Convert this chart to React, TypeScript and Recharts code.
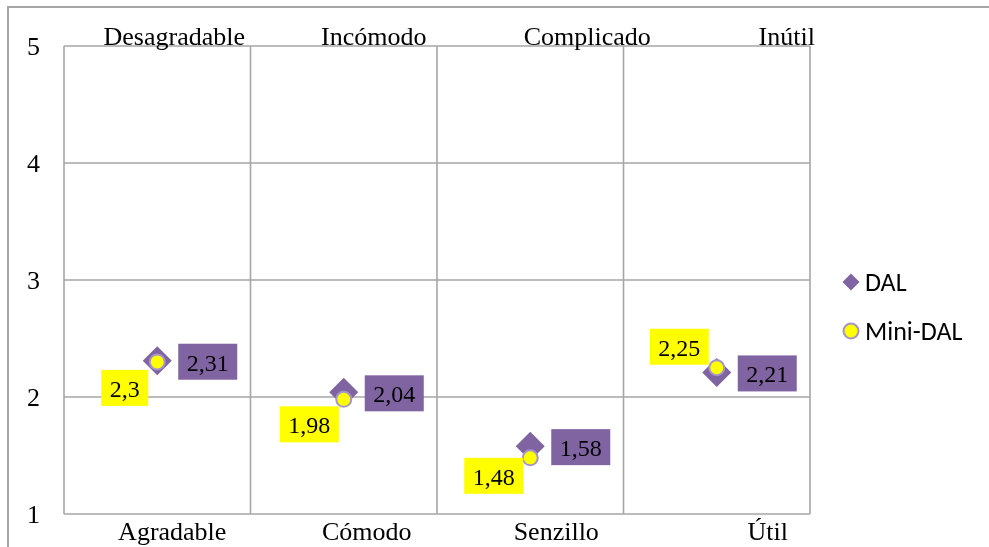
import React from 'react';
import { ComposedChart, Scatter, XAxis, YAxis, CartesianGrid, Legend } from 'recharts';

const categories = ['Agradable', 'Cómodo', 'Senzillo', 'Útil'];
const topLabels = ['Desagradable', 'Incómodo', 'Complicado', 'Inútil'];
const dalValues = [2.31, 2.04, 1.58, 2.21];
const miniDalValues = [2.3, 1.98, 1.48, 2.25];
const yTicks = [1, 2, 3, 4, 5];
const seriesNames = ['DAL', 'Mini-DAL'];

// style-only offsets
const bottomTickDx = [15, 23, 26, 51];
const topTickDx = [17, 30, 57, 70];
const miniLabelOffsets: [number, number][] = [[-9, 8], [-5, 7], [-7, 0], [-8, -39]];

const data = categories.map((c, i) => ({ cat: c, top: topLabels[i], dal: dalValues[i], mini: miniDalValues[i] }));

const PURPLE = '#8064A2';
const YELLOW = '#FFFF00';
const RING = '#A495C7';
const GRID = '#a6a6a6';
const SERIF = '"Liberation Serif", "Times New Roman", serif';
const SANS = 'Carlito, Lato, "Open Sans", sans-serif';

const fmt = (v: number) => String(v).replace('.', ',');
const boxW = (t: string) => t.split('').reduce((s, ch) => s + (ch === ',' ? 6 : 12), 0) + 17;

const DalShape = (props: any) => {
  const { cx, cy, payload } = props;
  const t = fmt(payload.dal);
  const w = boxW(t);
  const bx = cx + 21;
  const by = cy - 17;
  const h = 14.5;
  return (
    <g>
      <polygon points={`${cx},${cy - h} ${cx + h},${cy} ${cx},${cy + h} ${cx - h},${cy}`} fill={PURPLE} />
      <rect x={bx} y={by} width={w} height={36} fill={PURPLE} />
      <text x={bx + w / 2} y={by + 27} textAnchor="middle" fontFamily={SERIF} fontSize={24} fill="#000">{t}</text>
    </g>
  );
};

const MiniShape = (props: any) => {
  const { cx, cy, payload } = props;
  const i = categories.indexOf(payload.cat);
  const t = fmt(payload.mini);
  const w = boxW(t);
  const [ox, oy] = miniLabelOffsets[i] || [-7, 7];
  const bx = cx + ox - w;
  const by = cy + oy;
  return (
    <g>
      <circle cx={cx} cy={cy} r={7.5} fill={YELLOW} stroke={RING} strokeWidth={2} />
      <rect x={bx} y={by} width={w} height={36} fill={YELLOW} />
      <text x={bx + w / 2} y={by + 27} textAnchor="middle" fontFamily={SERIF} fontSize={24} fill="#000">{t}</text>
    </g>
  );
};

const BottomTick = (props: any) => {
  const { x, y, payload, index } = props;
  return (
    <text x={x + (bottomTickDx[index] || 0)} y={y} textAnchor="middle" fontFamily={SERIF} fontSize={26} fill="#000">
      {payload.value}
    </text>
  );
};

const TopTick = (props: any) => {
  const { x, y, payload, index } = props;
  return (
    <text x={x + (topTickDx[index] || 0)} y={y} textAnchor="middle" fontFamily={SERIF} fontSize={26} fill="#000">
      {payload.value}
    </text>
  );
};

const LegendContent = () => (
  <svg width={989} height={547} style={{ position: 'absolute', left: 0, top: 0, overflow: 'visible', pointerEvents: 'none' }}>
    <polygon points="851,273.5 859.5,282 851,290.5 842.5,282" fill={PURPLE} />
    <text x={865} y={290.5} fontFamily={SANS} fontSize={26} fill="#000">{seriesNames[0]}</text>
    <circle cx={851} cy={331} r={7.5} fill={YELLOW} stroke={RING} strokeWidth={2} />
    <text x={865} y={340} fontFamily={SANS} fontSize={26} fill="#000">{seriesNames[1]}</text>
  </svg>
);

export default function App() {
  return (
    <>
      <div
        style={{
          position: 'fixed',
          left: 7,
          top: 6,
          width: 1200,
          height: 800,
          borderTop: `2px solid ${GRID}`,
          borderLeft: `2px solid ${GRID}`,
          boxSizing: 'border-box',
        }}
      />
      <div style={{ position: 'fixed', left: 0, top: 0, width: 989, height: 547 }}>
        <ComposedChart width={989} height={547} data={data} margin={{ top: 0, right: 179, bottom: 0, left: 0 }}>
          <CartesianGrid
            xAxisId="bottom"
            stroke={GRID}
            strokeWidth={1.6}
            verticalCoordinatesGenerator={({ offset }: any) => {
              const n = categories.length;
              const arr: number[] = [];
              for (let i = 0; i <= n; i++) arr.push(offset.left + (offset.width * i) / n);
              return arr;
            }}
          />
          <XAxis
            xAxisId="bottom"
            dataKey="cat"
            type="category"
            scale="band"
            orientation="bottom"
            height={33}
            axisLine={false}
            tickLine={false}
            tickSize={0}
            tickMargin={26}
            interval={0}
            tick={<BottomTick />}
          />
          <XAxis
            xAxisId="top"
            dataKey="top"
            type="category"
            scale="band"
            orientation="top"
            height={46}
            axisLine={false}
            tickLine={false}
            tickSize={0}
            tickMargin={1}
            interval={0}
            tick={<TopTick />}
          />
          <YAxis
            type="number"
            domain={[1, 5]}
            ticks={yTicks}
            width={64}
            axisLine={false}
            tickLine={false}
            tickSize={0}
            tickMargin={24}
            tick={{ fontFamily: SERIF, fontSize: 26, fill: '#000' }}
          />
          <Legend
            content={<LegendContent />}
            wrapperStyle={{ position: 'absolute', left: 0, top: 0, width: 0, height: 0, overflow: 'visible' }}
          />
          <Scatter xAxisId="bottom" name={seriesNames[0]} dataKey="dal" shape={<DalShape />} isAnimationActive={false} />
          <Scatter xAxisId="bottom" name={seriesNames[1]} dataKey="mini" shape={<MiniShape />} isAnimationActive={false} />
        </ComposedChart>
      </div>
    </>
  );
}
